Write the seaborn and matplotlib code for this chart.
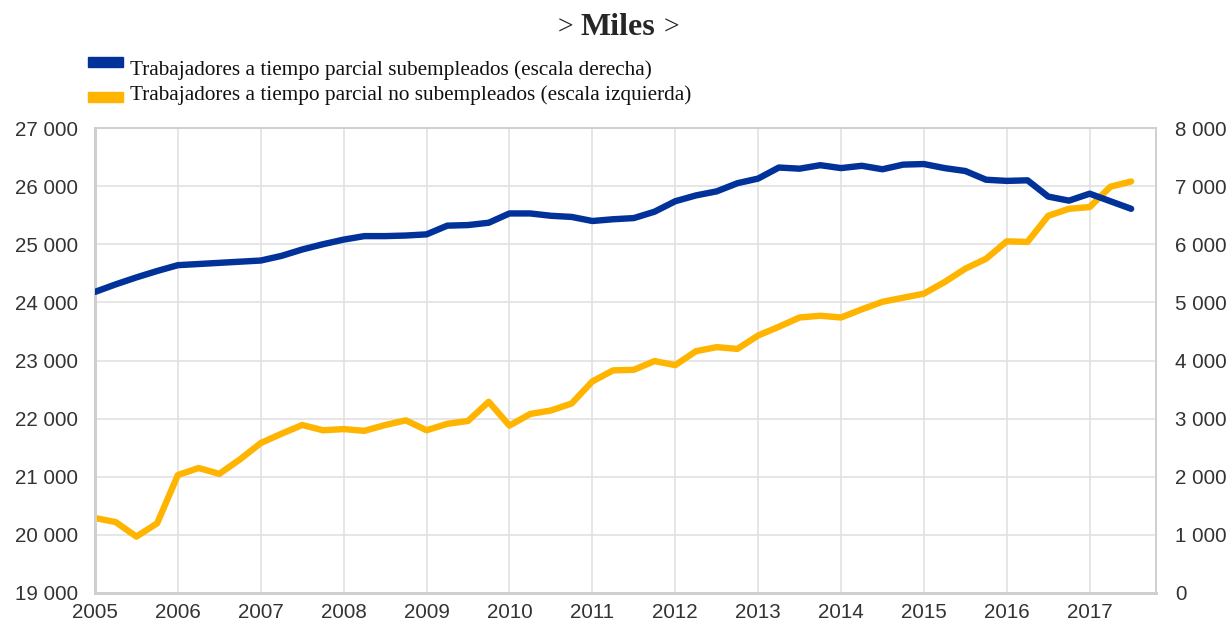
import numpy as np
import pandas as pd
import matplotlib
matplotlib.use("Agg")
import matplotlib.pyplot as plt
from matplotlib.patches import Rectangle
import seaborn as sns

# quarterly observations, 2005Q1 - 2017Q3
quarters = [2005 + q / 4 for q in range(51)]

# part-time workers not underemployed (left scale, thousands)
no_subempleados = [20290, 20220, 19970, 20200, 21030, 21150, 21050, 21300,
                   21580, 21740, 21890, 21800, 21820, 21790, 21890, 21970,
                   21800, 21910, 21960, 22290, 21880, 22080, 22140, 22260,
                   22640, 22830, 22840, 22990, 22920, 23160, 23230, 23200,
                   23430, 23580, 23740, 23770, 23740, 23880, 24010, 24080,
                   24150, 24350, 24580, 24750, 25050, 25040, 25490, 25610,
                   25640, 25990, 26080]

# part-time workers underemployed (right scale, thousands)
subempleados = [5180, 5310, 5430, 5540, 5640, 5660, 5680, 5700,
                5720, 5800, 5910, 6000, 6080, 6140, 6140, 6150,
                6170, 6320, 6330, 6370, 6530, 6530, 6490, 6470,
                6400, 6430, 6450, 6560, 6740, 6840, 6910, 7050,
                7130, 7320, 7300, 7360, 7310, 7350, 7290, 7370,
                7380, 7310, 7260, 7110, 7090, 7100, 6820, 6750,
                6870, 6740, 6610]

left_ticks = [19000, 20000, 21000, 22000, 23000, 24000, 25000, 26000, 27000]
right_ticks = [0, 1000, 2000, 3000, 4000, 5000, 6000, 7000, 8000]
year_ticks = list(range(2005, 2018))

label_sub = "Trabajadores a tiempo parcial subempleados (escala derecha)"
label_no = "Trabajadores a tiempo parcial no subempleados (escala izquierda)"

blue = "#003299"
yellow = "#FFB400"
grid_c = "#e1e1e1"
spine_c = "#cfcfcf"
tick_c = "#333333"

W, H = 1230, 626

df = pd.DataFrame({"t": quarters, "no": no_subempleados, "sub": subempleados})

sns.set_style("white")
plt.rcParams["font.family"] = ["Liberation Sans", "DejaVu Sans"]

fig = plt.figure(figsize=(12.3, 6.26), dpi=100)
ax = fig.add_axes([95 / W, 1 - 593 / H, (1156 - 95) / W, (593 - 128) / H])
ax2 = ax.twinx()

sns.lineplot(data=df, x="t", y="no", ax=ax, color=yellow, lw=4.6, zorder=3)
sns.lineplot(data=df, x="t", y="sub", ax=ax2, color=blue, lw=4.6, zorder=3)

ax.set_xlim(2005, 2017.8)
ax.set_ylim(19000, 27000)
ax2.set_ylim(0, 8000)
ax.set_xticks(year_ticks)
ax.set_xticklabels([str(y) for y in year_ticks])
ax.set_yticks(left_ticks)
ax.set_yticklabels([f"{v:,}".replace(",", " ") for v in left_ticks])
ax2.set_yticks(right_ticks)
ax2.set_yticklabels([f"{v:,}".replace(",", " ") for v in right_ticks])

ax.grid(True, color=grid_c, lw=1.2)
ax.set_axisbelow(True)
for a in (ax, ax2):
    a.set_xlabel("")
    a.set_ylabel("")
    for name, sp in a.spines.items():
        sp.set_color(spine_c)
        sp.set_linewidth(2 if name in ("left", "bottom") else 1.2)
ax.tick_params(axis="both", length=0, labelsize=14.8, colors=tick_c)
ax.tick_params(axis="y", pad=12)
ax.tick_params(axis="x", pad=7)
ax2.tick_params(axis="y", length=0, labelsize=14.8, colors=tick_c, pad=14)

# title "> Miles >"
fig.text(618 / W, 1 - 35 / H, "Miles", ha="center", va="baseline",
         family="Liberation Serif", fontweight="bold", fontsize=23)
fig.text(565 / W, 1 - 35 / H, ">", ha="center", va="baseline",
         family="Liberation Serif", fontsize=20)
fig.text(671 / W, 1 - 35 / H, ">", ha="center", va="baseline",
         family="Liberation Serif", fontsize=20)

# legend, drawn by hand to keep the swatch offsets of the original
for y0, y1, col in [(57, 67, blue), (92, 102, yellow)]:
    fig.patches.append(Rectangle((88 / W, 1 - y1 / H), 35 / W, (y1 - y0) / H,
                                 transform=fig.transFigure, color=col))
for base, txt in [(75, label_sub), (100, label_no)]:
    fig.text(130 / W, 1 - base / H, txt, ha="left", va="baseline",
             family="Liberation Serif", fontsize=15.3, color="#111111")

fig.savefig("out.png", dpi=100)
